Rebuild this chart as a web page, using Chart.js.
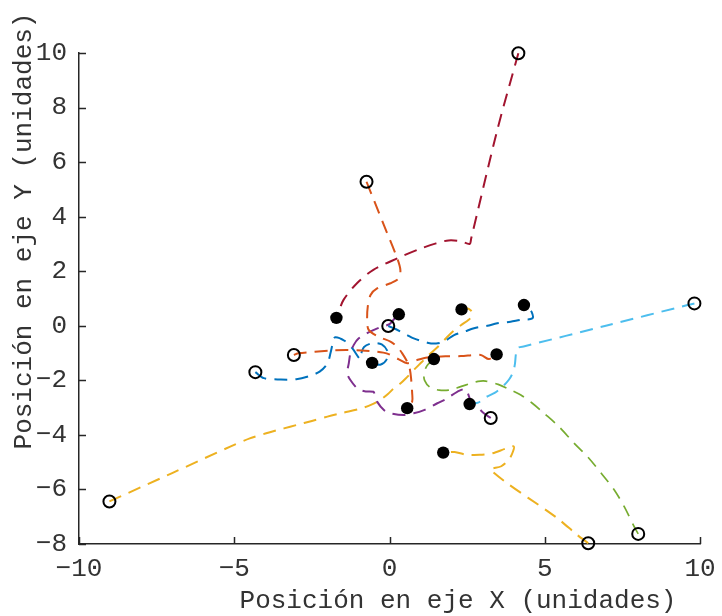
<!DOCTYPE html>
<html>
<head>
<meta charset="utf-8">
<script src="https://cdn.jsdelivr.net/npm/chart.js@4.4.1/dist/chart.umd.min.js"></script>
<style>
  html, body { margin: 0; padding: 0; background: #ffffff; }
  canvas { display: block; }
</style>
</head>
<body>
<canvas id="grafico" width="722" height="616"></canvas>
<script>
// Trayectorias de 10 partículas: cada una empieza en un círculo abierto
// y termina en un punto negro.
const ruta1X = [-4.32, -4.05, -3.5, -3.0, -2.6, -2.25, -2.0, -1.9, -1.82, -1.75, -1.45, -1.2, -0.95, -0.92, -0.82, -0.55, -0.25, -0.06, -0.1, -0.3, -0.56];
const ruta1Y = [-1.70, -1.92, -1.97, -1.96, -1.85, -1.68, -1.38, -1.0, -0.6, -0.42, -0.55, -0.82, -1.22, -1.05, -0.78, -0.64, -0.68, -0.95, -1.25, -1.43, -1.36];

const ruta2X = [-3.08, -2.93, -2.4, -1.9, -1.4, -0.9, -0.4, -0.07, 0.30, 0.57, 0.84, 1.22, 1.8, 2.3, 2.94, 3.2, 3.45];
const ruta2Y = [-1.07, -1.01, -0.95, -0.91, -0.89, -0.91, -0.95, -1.02, -1.23, -1.37, -1.27, -1.16, -1.12, -1.11, -1.07, -1.22, -1.05];

const ruta3X = [-9.02, -7.0, -5.13, -4.5, -4.0, -3.4, -3.0, -2.5, -2.0, -1.5, -1.0, -0.6, -0.3, -0.05, 0.15, 0.35, 0.55, 0.8, 1.05, 1.3, 1.55, 1.85, 2.05, 2.3, 2.55, 2.68, 2.62, 2.48, 2.32];
const ruta3Y = [-6.44, -5.40, -4.43, -4.13, -3.95, -3.76, -3.64, -3.49, -3.33, -3.19, -3.06, -2.9, -2.72, -2.5, -2.28, -2.12, -1.9, -1.6, -1.32, -1.03, -0.78, -0.42, -0.2, 0.02, 0.22, 0.4, 0.56, 0.64, 0.6];

const ruta4X = [3.26, 3.04, 2.83, 2.61, 2.45, 2.18, 1.86, 1.54, 1.11, 0.78, 0.46, 0.03, -0.18, -0.40, -0.47, -0.52, -0.8, -1.04, -1.26, -1.36, -1.31, -1.26, -1.15, -0.99, -0.72, -0.5, -0.24, 0.0, 0.15, 0.30];
const ruta4Y = [-3.38, -3.21, -2.97, -2.72, -2.33, -2.42, -2.66, -2.84, -3.09, -3.21, -3.27, -3.21, -3.09, -2.78, -2.55, -2.42, -2.40, -2.29, -1.99, -1.74, -1.37, -1.01, -0.70, -0.46, -0.27, -0.15, -0.03, 0.06, 0.25, 0.42];

const ruta5X = [8.01, 7.88, 7.56, 7.24, 6.85, 6.38, 5.95, 5.46, 4.98, 4.6, 4.23, 3.9, 3.5, 3.1, 2.85, 2.6, 2.29, 1.97, 1.6, 1.3, 1.13, 1.11, 1.2, 1.3, 1.43];
const ruta5Y = [-7.63, -7.36, -6.63, -6.02, -5.45, -4.80, -4.31, -3.7, -3.21, -2.84, -2.54, -2.35, -2.15, -2.03, -2.04, -2.12, -2.23, -2.35, -2.36, -2.25, -2.0, -1.74, -1.48, -1.35, -1.22];

const ruta6X = [9.82, 9.6, 7.0, 4.35, 4.12, 4.07, 4.04, 3.98, 3.85, 3.65, 3.4, 3.1, 2.85, 2.58];
const ruta6Y = [0.82, 0.76, 0.01, -0.75, -0.82, -1.05, -1.4, -1.7, -1.97, -2.22, -2.45, -2.62, -2.82, -2.87];

const ruta7X = [4.15, 3.47, 2.63, 2.58, 2.3, 1.9, 1.5, 0.89, 0.25, -0.52, -1.04, -1.48, -1.65, -1.71];
const ruta7Y = [9.99, 7.17, 3.2, 3.0, 3.1, 3.13, 3.02, 2.78, 2.47, 2.05, 1.57, 0.95, 0.47, 0.29];

const ruta8X = [-0.04, 0.14, 0.57, 0.78, 1.22, 1.5, 1.75, 2.08, 2.4, 2.72, 3.15, 3.47, 3.9, 4.23, 4.6, 4.58, 4.45, 4.33];
const ruta8Y = [-0.01, -0.09, -0.34, -0.46, -0.62, -0.65, -0.58, -0.34, -0.22, -0.09, 0.0, 0.09, 0.15, 0.22, 0.27, 0.5, 0.66, 0.76];

const ruta9X = [-0.74, -0.18, 0.25, 0.35, 0.30, 0.03, -0.40, -0.61, -0.70, -0.72, -0.67, -0.35, 0.03, 0.25, 0.41, 0.57, 0.66, 0.70, 0.73, 0.73, 0.57];
const ruta9Y = [5.28, 3.69, 2.47, 2.05, 1.74, 1.56, 1.37, 1.13, 0.70, 0.21, -0.15, -0.40, -0.58, -0.77, -1.01, -1.32, -1.62, -1.99, -2.47, -2.78, -3.02];

const ruta10X = [6.40, 6.05, 5.4, 3.26, 3.6, 3.85, 3.98, 4.0, 3.75, 3.3, 2.9, 2.45, 2.1, 1.73];
const ruta10Y = [-7.97, -7.67, -7.05, -5.29, -5.15, -4.9, -4.6, -4.42, -4.5, -4.68, -4.73, -4.72, -4.63, -4.65];

// Orden de colores por defecto de MATLAB
const colores = ['#0072BD', '#D95319', '#EDB120', '#7E2F8E', '#77AC30', '#4DBEEE', '#A2142F'];

const ticksX = [-10, -5, 0, 5, 10];
const ticksY = [-8, -6, -4, -2, 0, 2, 4, 6, 8, 10];

const tituloX = 'Posición en eje X (unidades)';
const tituloY = 'Posición en eje Y (unidades)';

const rutas = [
  [ruta1X, ruta1Y], [ruta2X, ruta2Y], [ruta3X, ruta3Y], [ruta4X, ruta4Y], [ruta5X, ruta5Y],
  [ruta6X, ruta6Y], [ruta7X, ruta7Y], [ruta8X, ruta8Y], [ruta9X, ruta9Y], [ruta10X, ruta10Y]
];

const FUENTE = '"Liberation Mono", "Courier New", monospace';
const GRIS = '#262626';
const GRIS_TEXTO = '#333333';

const puntos = (xs, ys) => xs.map((x, i) => ({ x, y: ys[i] }));

const conjuntos = [];

// Marcadores (encima de las líneas)
conjuntos.push({
  label: 'inicio',
  data: rutas.map(([xs, ys]) => ({ x: xs[0], y: ys[0] })),
  showLine: false,
  pointRadius: 6,
  pointBorderWidth: 2,
  pointBorderColor: '#000000',
  pointBackgroundColor: 'rgba(0,0,0,0)',
  clip: false,
  order: 0
});
conjuntos.push({
  label: 'fin',
  data: rutas.map(([xs, ys]) => ({ x: xs[xs.length - 1], y: ys[ys.length - 1] })),
  showLine: false,
  pointRadius: 6.2,
  pointBorderWidth: 0,
  pointBackgroundColor: '#000000',
  clip: false,
  order: 0
});

rutas.forEach(([xs, ys], i) => {
  const verde = i === 4;
  conjuntos.push({
    label: 'ruta ' + (i + 1),
    data: puntos(xs, ys),
    showLine: true,
    borderColor: colores[i % colores.length],
    borderWidth: verde ? 1.7 : 2,
    borderDash: verde ? [12, 8] : [13, 8],
    tension: 0.3,
    pointRadius: 0,
    order: 20 - i
  });
});

const fmt = v => (v < 0 ? '\u2212' + Math.abs(v) : String(v));

// Marcas de graduación hacia dentro y títulos de los ejes
const decoracion = {
  id: 'decoracion',
  afterDraw(chart) {
    const { ctx, chartArea: a, scales: { x, y } } = chart;
    ctx.save();
    ctx.strokeStyle = GRIS;
    ctx.lineWidth = 1.5;
    ctx.beginPath();
    ticksX.forEach(v => {
      const px = Math.round(x.getPixelForValue(v)) + 0.5;
      ctx.moveTo(px, a.bottom);
      ctx.lineTo(px, a.bottom - 7);
    });
    ticksY.forEach(v => {
      const py = Math.round(y.getPixelForValue(v)) + 0.5;
      ctx.moveTo(a.left, py);
      ctx.lineTo(a.left + 7, py);
    });
    ctx.stroke();

    ctx.fillStyle = GRIS_TEXTO;
    ctx.font = '26px ' + FUENTE;
    ctx.textAlign = 'center';
    ctx.textBaseline = 'alphabetic';
    ctx.fillText(tituloX, 458, 608);

    ctx.translate(31, 231);
    ctx.rotate(-Math.PI / 2);
    ctx.fillText(tituloY, 0, 0);
    ctx.restore();
  }
};

new Chart(document.getElementById('grafico'), {
  type: 'scatter',
  data: { datasets: conjuntos },
  plugins: [decoracion],
  options: {
    responsive: false,
    animation: false,
    events: [],
    layout: { padding: { top: 53, right: 22, left: 0, bottom: 0 } },
    plugins: { legend: { display: false }, tooltip: { enabled: false } },
    scales: {
      x: {
        type: 'linear',
        min: -10, max: 10,
        afterFit: s => { s.height = 72; },
        afterBuildTicks: s => { s.ticks = ticksX.map(v => ({ value: v })); },
        grid: { display: false },
        border: { display: true, color: GRIS, width: 1.5 },
        ticks: { color: GRIS_TEXTO, font: { family: FUENTE, size: 26 }, padding: 2, maxRotation: 0, callback: fmt }
      },
      y: {
        type: 'linear',
        min: -8, max: 10,
        afterFit: s => { s.width = 79; },
        afterBuildTicks: s => { s.ticks = ticksY.map(v => ({ value: v })); },
        grid: { display: false },
        border: { display: true, color: GRIS, width: 1.5 },
        ticks: { color: GRIS_TEXTO, font: { family: FUENTE, size: 26 }, padding: 4, callback: fmt }
      }
    }
  }
});
</script>
</body>
</html>
